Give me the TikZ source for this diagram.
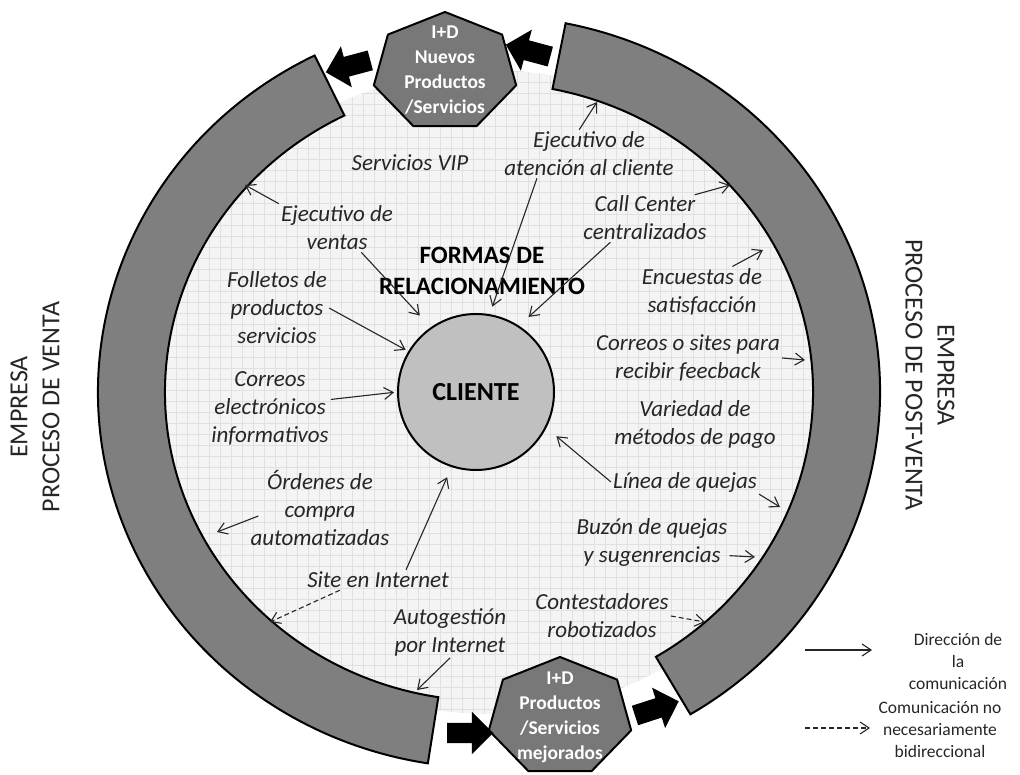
\documentclass[tikz,border=0pt]{standalone}
\usepackage{fontspec}
\setmainfont{Carlito}
\usetikzlibrary{calc,shapes.arrows,arrows.meta}

\definecolor{ringgray}{HTML}{7F7F7F}
\definecolor{heptgray}{HTML}{787878}
\definecolor{clientgray}{HTML}{C0C0C0}
\definecolor{gridbg}{HTML}{F4F4F4}
\definecolor{gridln}{HTML}{E0E0E0}
\definecolor{labelink}{HTML}{262626}

\begin{document}
\begin{tikzpicture}[x=1pt,y=1pt,
    ring/.style={fill=ringgray,draw=black,line width=2pt},
    hepta/.style={fill=heptgray,draw=black,line width=2pt,line join=round},
    heptatext/.style={text=white,font=\fontsize{19.5}{25}\selectfont\bfseries,align=center,inner sep=0pt},
    lbl/.style={text=labelink,font=\fontsize{23}{28}\selectfont\itshape,align=center,inner sep=2pt},
    comm/.style={labelink,line width=1.1pt,-{Straight Barb[length=9pt,width=12pt]}},
    commd/.style={comm,dash pattern=on 5pt off 3pt},
    bigarrow/.style={single arrow,fill=black,draw=none,minimum height=46pt,inner sep=10pt,single arrow head extend=11pt},
    side/.style={text=labelink,font=\fontsize{26}{32}\selectfont,align=center,inner sep=0pt},
    legend/.style={text=labelink,font=\fontsize{17.5}{22}\selectfont,align=center,inner sep=0pt}]
    \useasboundingbox (0,0) rectangle (1020,775);

    % fondo cuadriculado
    \coordinate (C) at (489,383);
    \begin{scope}
        \clip (C) ellipse [x radius=338, y radius=322];
        \fill[gridbg] (140,50) rectangle (840,720);
        \draw[gridln,line width=0.5pt] (140,50) grid[step=11pt] (840,720);
    \end{scope}

    % anillo: venta / post-venta
    \draw[ring] ([shift={(116.5:391 and 376)}]C) arc[start angle=116.5,end angle=261,x radius=391,y radius=376]
        -- ([shift={(261:324 and 309)}]C) arc[start angle=261,end angle=116.5,x radius=324,y radius=309] -- cycle;
    \draw[ring] ([shift={(-59:391 and 376)}]C) arc[start angle=-59,end angle=78.7,x radius=391,y radius=376]
        -- ([shift={(78.7:324 and 309)}]C) arc[start angle=78.7,end angle=-59,x radius=324,y radius=309] -- cycle;

    % I+D
    \coordinate (hsup) at (445,703);
    \draw[hepta] ([shift={(90:73 and 60)}]hsup) \foreach \k in {1,...,6}{ -- ([shift={(90+\k*360/7:73 and 60)}]hsup)} -- cycle;
    \node[heptatext] (idsup) at (445,705) {I+D\\Nuevos\\Productos\\/Servicios};
    \coordinate (hinf) at (560,58);
    \draw[hepta] ([shift={(90:73 and 60)}]hinf) \foreach \k in {1,...,6}{ -- ([shift={(90+\k*360/7:73 and 60)}]hinf)} -- cycle;
    \node[heptatext] (idinf) at (560,58) {I+D\\Productos\\/Servicios\\mejorados};

    \node[bigarrow,rotate=195] (fl1) at (353,710) {};
    \node[bigarrow,rotate=165] (fl2) at (533,723) {};
    \node[bigarrow] (fl3) at (465,42) {};
    \node[bigarrow,rotate=18] (fl4) at (652,65) {};

    % centro
    \node[circle,fill=clientgray,draw=black,line width=2pt,minimum size=156pt,inner sep=0pt,
        font=\fontsize{26}{28}\selectfont\bfseries] (cliente) at (476,383) {CLIENTE};
    \node[font=\fontsize{25}{31}\selectfont\bfseries,align=center] (formas) at (482,504) {FORMAS DE\\RELACIONAMIENTO};

    % formas de relacionamiento
    \node[lbl] (vip) at (410,612) {Servicios VIP};
    \node[lbl] (ejat) at (589,621) {Ejecutivo de\\atención al cliente};
    \node[lbl] (ejve) at (337,547) {Ejecutivo de\\ventas};
    \node[lbl] (call) at (645,557) {Call Center\\centralizados};
    \node[lbl] (encu) at (702,483) {Encuestas de\\satisfacción};
    \node[lbl] (foll) at (277,467) {Folletos de\\productos\\servicios};
    \node[lbl] (corr) at (688,417) {Correos o sites para\\recibir feecback};
    \node[lbl] (corre) at (270,367) {Correos\\electrónicos\\informativos};
    \node[lbl] (vari) at (695,351) {Variedad de\\métodos de pago};
    \node[lbl] (orde) at (320,267) {Órdenes de\\compra\\automatizadas};
    \node[lbl] (line) at (685,293) {Línea de quejas};
    \node[lbl] (buzo) at (652,233) {Buzón de quejas\\y sugenrencias};
    \node[lbl] (site) at (378,195) {Site en Internet};
    \node[lbl] (cont) at (602,159) {Contestadores\\robotizados};
    \node[lbl] (auto) at (450,143) {Autogestión\\por Internet};

    % puntos en el anillo
    \coordinate (r1) at (597,673);
    \coordinate (r2) at (245,590);
    \coordinate (r3) at (217,243);
    \coordinate (r4) at (270,153);
    \coordinate (r5) at (417,85);
    \coordinate (r6) at (705,153);
    \coordinate (r7) at (755,218);
    \coordinate (r8) at (780,268);
    \coordinate (r9) at (805,415);
    \coordinate (r10) at (763,525);
    \coordinate (r11) at (730,590);

    \draw[comm] (ejat.112) -- (r1);
    \draw[comm,shorten >=8pt] (ejat.205) -- (cliente.80);
    \draw[comm] (ejve.north west) -- (r2);
    \draw[comm,shorten >=16pt] (ejve.-45) -- (cliente.125);
    \draw[comm,shorten >=3pt] (foll.east) -- (cliente.149);
    \draw[comm,shorten >=3pt] (corre.8) -- (cliente.180);
    \draw[comm] ([xshift=10pt,yshift=-8pt]orde.west) -- (r3);
    \draw[comm,shorten >=11pt] (site.20) -- (cliente.252);
    \draw[commd] (site.195) -- (r4);
    \draw[comm] (auto.south) -- (r5);
    \draw[commd] (cont.east) -- (r6);
    \draw[comm] (buzo.-10) -- (r7);
    \draw[comm,shorten >=13pt] (line.west) -- (cliente.-27);
    \draw[comm] (line.south east) -- (r8);
    \draw[comm] (corr.east) -- (r9);
    \draw[comm] (encu.40) -- (r10);
    \draw[comm] ([xshift=-14pt]call.20) -- (r11);
    \draw[comm,shorten >=13pt] (call.215) -- (cliente.57.5);

    % empresa
    \node[side,rotate=90] (venta) at (35,368) {EMPRESA\\PROCESO DE VENTA};
    \node[side,rotate=-90] (postventa) at (930,400) {EMPRESA\\PROCESO DE POST-VENTA};

    % leyenda
    \coordinate (lg1a) at (805,125);
    \coordinate (lg1b) at (872,125);
    \draw[comm] (lg1a) -- (lg1b);
    \node[legend] (leg1) at (958,114) {Dirección de\\la\\comunicación};
    \coordinate (lg2a) at (805,47);
    \coordinate (lg2b) at (870,47);
    \draw[commd] (lg2a) -- (lg2b);
    \node[legend] (leg2) at (940,45) {Comunicación no\\necesariamente\\bidireccional};
\end{tikzpicture}
\end{document}
